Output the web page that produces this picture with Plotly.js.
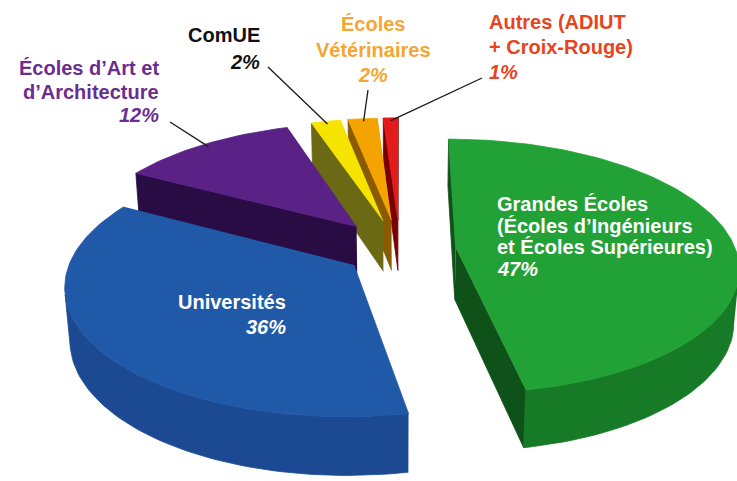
<!DOCTYPE html>
<html><head><meta charset="utf-8">
<script src="https://cdn.plot.ly/plotly-3.0.1.min.js"></script>
<style>html,body{margin:0;padding:0;background:#fff}#chart{width:737px;height:481px}</style>
</head><body><div id="chart"></div>
<script>
// ---- data ----
const categories = [
  "Grandes Écoles (Écoles d’Ingénieurs et Écoles Supérieures)",
  "Universités",
  "Écoles d’Art et d’Architecture",
  "ComUE",
  "Écoles Vétérinaires",
  "Autres (ADIUT + Croix-Rouge)"
];
const shares = [47, 36, 12, 2, 2, 1];
const labelLines = [
  ["Grandes Écoles", "(Écoles d’Ingénieurs", "et Écoles Supérieures)"],
  ["Universités"],
  ["Écoles d’Art et", "d’Architecture"],
  ["ComUE"],
  ["Écoles", "Vétérinaires"],
  ["Autres (ADIUT", "+ Croix-Rouge)"]
];

// ---- styles ----
const topColors  = ["#22a136", "#2159a9", "#5a2187", "#f5e400", "#f5a300", "#e31b1b"];
const wallColors = ["#177a26", "#1b4a92", "#3a1560", "#b3a500", "#c07a00", "#a00d0d"];
const cutColors  = ["#0f5219", "#0f2c5e", "#2a0c45", "#6c6914", "#8a5a00", "#790000"];
const pulls      = [0.2, 0.2, 0.25, 0.25, 0.25, 0.25];
const textColors = ["#ffffff", "#ffffff", "#6a2d90", "#111111", "#f5a632", "#e8431c"];
const labelPos = [
  {x: 495, y: 204, dy: 21.5, anchor: "left"},
  {x: 288, y: 302, dy: 25, anchor: "right"},
  {x: 161, y: 68, dy: 23.5, anchor: "right"},
  {x: 262, y: 35, dy: 27, anchor: "right"},
  {x: 373, y: 24, dy: 25.5, anchor: "center"},
  {x: 487, y: 22, dy: 25, anchor: "left"}
];
const leaderStart = [null, null, [170, 122], [268, 67], [368, 90], [482, 78]];

// ---- projection (perspective view of a tilted disc) ----
const CX = 400, CY = 250, F = 1725, DIST = 6.16, PHI = 26.5 * Math.PI / 180, H = 0.21;
const sP = Math.sin(PHI), cP = Math.cos(PHI);
const CAM = [0, -DIST * cP, DIST * sP];
function proj(X, Y, Z) {
  const d = DIST + Y * cP - Z * sP;
  return [CX + X * F / d, CY - (Y * sP + Z * cP) * F / d];
}

const total = shares.reduce((a, b) => a + b, 0);
const traces = [];
const slices = [];
let acc = 0;
shares.forEach((v, i) => {
  const t0 = acc / total * 2 * Math.PI;
  acc += v;
  const t1 = acc / total * 2 * Math.PI;
  const tm = (t0 + t1) / 2;
  const ox = pulls[i] * Math.sin(tm), oy = pulls[i] * Math.cos(tm);
  const depth = oy + 0.5 * Math.cos(tm);
  slices.push({i, t0, t1, tm, ox, oy, depth});
});

function poly(pts, color) {
  traces.push({
    x: pts.map(p => p[0]), y: pts.map(p => p[1]),
    type: "scatter", mode: "lines", fill: "toself",
    fillcolor: color, line: {color: color, width: 0.8},
    hoverinfo: "skip", showlegend: false
  });
}
function visible(n, P) {
  return n[0] * (CAM[0] - P[0]) + n[1] * (CAM[1] - P[1]) + n[2] * (CAM[2] - P[2]) > 0;
}

// draw back to front
slices.slice().sort((a, b) => b.depth - a.depth).forEach(s => {
  const {i, t0, t1, ox, oy} = s;
  const n = Math.max(4, Math.ceil((t1 - t0) / (Math.PI / 120)));
  const angs = [];
  for (let k = 0; k <= n; k++) angs.push(t0 + (t1 - t0) * k / n);
  const rim = (t, z) => proj(ox + Math.sin(t), oy + Math.cos(t), z);
  // cut faces
  const nStart = [-Math.cos(t0), Math.sin(t0), 0];
  const nEnd = [Math.cos(t1), -Math.sin(t1), 0];
  const apex3 = [ox, oy, 0];
  if (visible(nStart, apex3)) poly([proj(ox, oy, 0), rim(t0, 0), rim(t0, -H), proj(ox, oy, -H)], cutColors[i]);
  if (visible(nEnd, apex3)) poly([proj(ox, oy, 0), rim(t1, 0), rim(t1, -H), proj(ox, oy, -H)], cutColors[i]);
  // outer wall: contiguous visible runs
  let run = [];
  const flush = () => {
    if (run.length > 1) {
      const top = run.map(t => rim(t, 0));
      const bot = run.slice().reverse().map(t => rim(t, -H));
      poly(top.concat(bot), wallColors[i]);
    }
    run = [];
  };
  for (let k = 0; k < n; k++) {
    const tm = (angs[k] + angs[k + 1]) / 2;
    const vis = visible([Math.sin(tm), Math.cos(tm), 0], [ox + Math.sin(tm), oy + Math.cos(tm), 0]);
    if (vis) {
      if (run.length === 0) run.push(angs[k]);
      run.push(angs[k + 1]);
    } else flush();
  }
  flush();
  // top face
  poly([proj(ox, oy, 0)].concat(angs.map(t => rim(t, 0))), topColors[i]);
});

// leader lines from label to the slice rim
slices.forEach(s => {
  const st = leaderStart[s.i];
  if (!st) return;
  const end = proj(s.ox + 0.97 * Math.sin(s.tm), s.oy + 0.97 * Math.cos(s.tm), 0);
  traces.push({
    x: [st[0], end[0]], y: [st[1], end[1]], type: "scatter", mode: "lines",
    line: {color: "#1a1a1a", width: 1.3}, hoverinfo: "skip", showlegend: false
  });
});

// labels
const annotations = [];
labelLines.forEach((lines, i) => {
  const p = labelPos[i];
  const all = lines.map(t => "<b>" + t + "</b>").concat(["<b><i>" + shares[i] + "%</i></b>"]);
  all.forEach((txt, k) => {
    annotations.push({
      x: p.x, y: p.y + k * p.dy, xref: "x", yref: "y",
      text: txt, showarrow: false, xanchor: p.anchor, yanchor: "middle",
      font: {family: "Liberation Sans, Arial, sans-serif", size: 20, color: textColors[i]}
    });
  });
});

const layout = {
  width: 737, height: 481,
  margin: {l: 0, r: 0, t: 0, b: 0},
  paper_bgcolor: "#ffffff", plot_bgcolor: "#ffffff",
  xaxis: {range: [0, 737], visible: false, fixedrange: true},
  yaxis: {range: [481, 0], visible: false, fixedrange: true},
  annotations: annotations,
  showlegend: false
};
Plotly.newPlot("chart", traces, layout, {staticPlot: true, displayModeBar: false});
</script>
</body></html>
